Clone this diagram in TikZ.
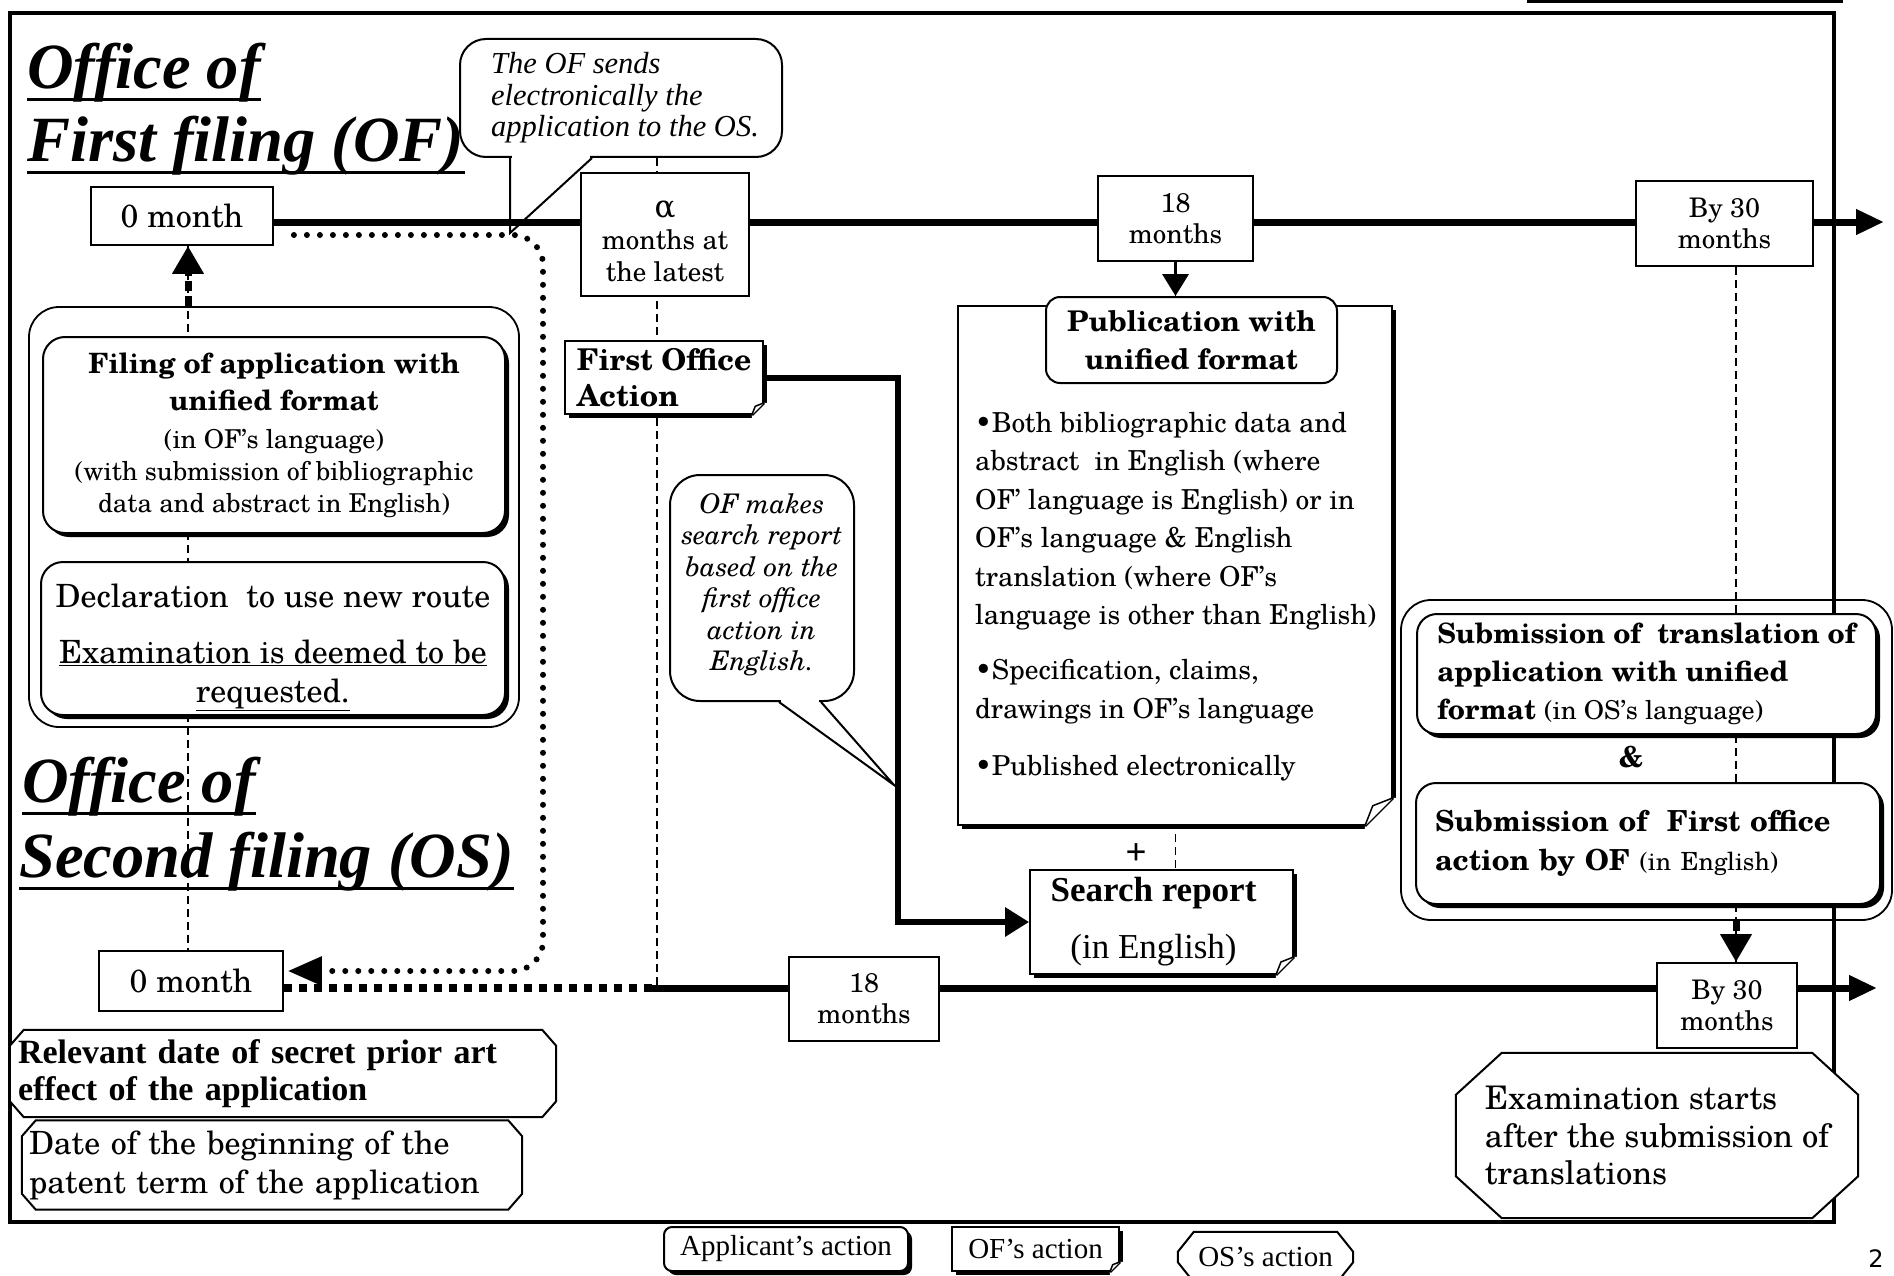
\documentclass[tikz,border=0pt]{standalone}
\usepackage{fontspec}
\setmainfont{texgyreschola}[Extension=.otf, UprightFont=*-regular, BoldFont=*-bold, ItalicFont=*-italic, BoldItalicFont=*-bolditalic]
\newfontfamily\timesf{Liberation Serif}
\newfontfamily\dvs{DejaVu Serif}
\newfontfamily\sansf{DejaVu Sans}
\usetikzlibrary{arrows.meta,calc,shadows}
\pgfdeclarelayer{back}
\pgfdeclarelayer{mid}
\pgfsetlayers{back,mid,main}
\newcommand\fs[2]{\fontsize{#1}{#2}\selectfont}
\newcommand\octa[4]{\draw[line width=#4, fill=white] ($(#1.north west)+(#2,0)$) -- ($(#1.north east)+(-#2,0)$) -- ($(#1.north east)+(0,#3)$) -- ($(#1.south east)+(0,-#3)$) -- ($(#1.south east)+(-#2,0)$) -- ($(#1.south west)+(#2,0)$) -- ($(#1.south west)+(0,-#3)$) -- ($(#1.north west)+(0,#3)$) -- cycle;}
\newcommand\curl[2]{%
 \fill[white] ($(#1.south east)+(-#2,0)$) -- ($(#1.south east)+(-#2,8)$) -- ($(#1.south east)+(8,8)$) -- ($(#1.south east)+(8,-#2)$) -- ($(#1.south east)+(0,-#2)$) -- cycle;
 \draw[line width=3pt] ($(#1.south east)+(-#2,0)$) -- ($(#1.south east)+(0,-#2)$);
 \draw[line width=1.5pt, fill=white] ($(#1.south east)+(-#2,0)$) -- ($(#1.south east)+(-0.72*#2,-0.72*#2)$) -- ($(#1.south east)+(0,-#2)$);}
\begin{document}
\begin{tikzpicture}[x=1pt,y=-1pt, line join=miter,
 tbox/.style={draw, line width=1.8pt, fill=white, inner sep=0pt, align=center, font={\fs{27}{31}}},
 shad/.style={drop shadow={shadow xshift=4pt, shadow yshift=-4pt, opacity=1, fill=black}},
 appbox/.style={draw, line width=2pt, fill=white, rounded corners=20pt, shad, inner sep=0pt},
 ofbox/.style={draw, line width=1.8pt, fill=white, shad, inner sep=0pt},
 grp/.style={draw, line width=1.8pt, rounded corners=30pt, inner sep=0pt},
 bubble/.style={draw, line width=2pt, fill=white, rounded corners=26pt, inner sep=0pt},
 heading/.style={font={\timesf\bfseries\itshape\fs{64.5}{70}}, inner sep=0pt},
 timeline/.style={line width=7pt},
 thindash/.style={line width=1.4pt, dash pattern=on 8pt off 5pt},
 thickdash/.style={line width=7pt, dash pattern=on 10pt off 5pt, -{Triangle[length=28pt,width=30pt]}},
 dotline/.style={line width=6pt, line cap=round, dash pattern=on 0pt off 13pt},
 sqdot/.style={line width=8pt, dash pattern=on 8pt off 7pt},
 bubtail/.style={line width=2pt, line join=miter},
 octtext/.style={inner sep=0pt, align=left}
]
\useasboundingbox (0,0) rectangle (1894,1276);

% ---------- headings ----------
\node[heading, anchor=base west] (H1a) at (27,89) {Office of};
\node[heading, anchor=base west] (H1b) at (27,162) {First filing (OF)};
\node[heading, anchor=base west] (H2a) at (22,802) {Office of};
\node[heading, anchor=base west] (H2b) at (19,877) {Second filing (OS)};
\foreach \h in {H1a,H1b,H2a,H2b}
  \draw[line width=3pt] ([yshift=-11pt]\h.base west) -- ([yshift=-11pt]\h.base east);

% ---------- time boxes ----------
\node[tbox, font={\fs{32}{36}}, minimum width=182pt, minimum height=58pt] (OF0) at (182,216) {0 month};
\node[tbox, font={\fs{32}{36}}, minimum width=184pt, minimum height=60pt] (OS0) at (191,981) {0 month};
\node[tbox, font={\fs{27}{32}}, minimum width=168pt, minimum height=123pt] (AL) at (665,234.5) {\rule{0pt}{30pt}{\dvs\fs{31}{32}α}\\months at\\the latest};
\node[tbox, minimum width=155pt, minimum height=85pt] (M18) at (1175.5,218.5) {18\\months};
\node[tbox, minimum width=177pt, minimum height=85pt] (B30t) at (1724.5,223.5) {By 30\\months};
\node[tbox, minimum width=150pt, minimum height=84pt] (M18b) at (864,999) {18\\months};
\node[tbox, minimum width=140pt, minimum height=85pt] (B30b) at (1727,1005.5) {By 30\\months};

% ---------- bubbles ----------
\node[bubble, minimum width=322pt, minimum height=118pt, align=left, font={\timesf\itshape\fs{30.5}{31.5}}] (B1) at (621,98) {\hspace*{8pt}The OF sends\\\hspace*{8pt}electronically the\\\hspace*{8pt}application to the OS.};
\coordinate (B1tip) at (510,233);
\fill[white] ($(B1.south)+(-109,-5)$) rectangle ($(B1.south)+(-31,4)$);
\draw[bubtail] ($(B1.south)+(-111,0)$) -- (B1tip) -- ($(B1.south)+(-29,0)$);

\node[bubble, rounded corners=30pt, minimum width=184pt, minimum height=226pt, align=center, font={\itshape\fs{27}{31.5}}] (B2) at (762,588) {OF makes\\search report\\based on the\\first office\\action in\\English.\rule[-12pt]{0pt}{0pt}};
\coordinate (B2tip) at (894,785);
\fill[white] ($(B2.south)+(19,-5)$) rectangle ($(B2.south)+(57,4)$);
\draw[bubtail] ($(B2.south)+(17,0)$) -- (B2tip) -- ($(B2.south)+(59,0)$);

% ---------- left group ----------
\node[grp, minimum width=490pt, minimum height=420pt] (GL) at (274,517) {};
\node[appbox, rounded corners=22pt, minimum width=462pt, minimum height=196pt, align=center, font={\fs{26}{32}}] (FIL) at (274,435)
 {{\bfseries\fs{28}{32}Filing of application with}\\[5pt]{\bfseries\fs{28}{32}unified format}\\[6pt](in OF’s language)\\(with submission of bibliographic\\data and abstract in English)};
\node[appbox, rounded corners=22pt, minimum width=464pt, minimum height=153pt, align=center, font={\fs{32}{39}}] (DEC) at (273,638.5)
 {\rule{0pt}{42pt}Declaration~ to use new route\\[17pt]\underline{Examination is deemed to be}\\\underline{requested.}};

% ---------- first office action ----------
\node[ofbox, minimum width=198pt, minimum height=73pt, align=left, font={\bfseries\fs{30}{36}}] (FOA) at (664,377.5) {First Office\\Action};
\curl{FOA}{12}

% ---------- publication ----------
\node[ofbox, minimum width=434pt, minimum height=519pt] (PUB) at (1175,565.5) {};
\curl{PUB}{28}
\node[draw, line width=2pt, fill=white, rounded corners=14pt, minimum width=291pt, minimum height=86pt, inner sep=0pt, align=center, font={\bfseries\fs{28.5}{38}}] (PUBT) at (1191.5,340) {Publication with\\unified format};
\node[anchor=north west, align=left, inner sep=0pt, font={\fs{27.5}{38.4}}] (PUBX) at (975,412)
 {•Both bibliographic data and\\abstract~ in English (where\\OF’ language is English) or in\\OF’s language \& English\\translation (where OF’s\\language is other than English)\\[17pt]•Specification, claims,\\drawings in OF’s language\\[19pt]•Published electronically};
\node[font={\fs{33}{34}}] (PLUS) at (1136,852) {+};

% ---------- search report ----------
\node[ofbox, minimum width=263pt, minimum height=104pt, align=center, font={\timesf\fs{35}{57}}] (SR) at (1161.5,922) {{\bfseries Search report}\hspace*{16pt}\\(in English)\hspace*{16pt}};
\curl{SR}{18}

% ---------- right group ----------
\node[grp, minimum width=491pt, minimum height=320pt] (GR) at (1646.5,760) {};
\node[appbox, minimum width=459pt, minimum height=120pt, align=left, font={\bfseries\fs{28}{38}}] (S1) at (1646.5,674)
 {Submission of~ translation of\\application with unified\\format {\mdseries\fs{26}{38}(in OS’s language)}};
\node[font={\bfseries\fs{29}{30}}] (AMP) at (1631,757) {\&};
\node[appbox, minimum width=464pt, minimum height=121pt, text width=426pt, align=left, font={\bfseries\fs{29}{39}}] (S2) at (1648,843.5)
 {Submission of~ First office\\action by OF {\mdseries\fs{25}{39}(in English)}};

% ---------- OS action boxes (octagons) ----------
\node[octtext, minimum width=402pt, minimum height=165pt, font={\fs{32.5}{37.5}}] (EX) at (1657,1135.5) {Examination starts\\after the submission of\\translations};
\node[octtext, minimum width=546pt, minimum height=87pt, text width=530pt, font={\timesf\bfseries\fs{34}{37}}] (REL) at (283,1073.5) {Relevant date of secret prior art\\effect of the application};
\node[octtext, minimum width=500pt, minimum height=89pt, text width=486pt, font={\fs{32}{39}}] (DAT) at (272,1165) {Date of the beginning of the\\patent term of the application};

% ---------- legend ----------
\node[appbox, rounded corners=8pt, minimum width=244pt, minimum height=44pt, font={\timesf\fs{29}{32}}] (LA) at (786,1249) {Applicant’s action};
\node[ofbox, minimum width=167pt, minimum height=44pt, font={\timesf\fs{29}{32}}] (LF) at (1035.5,1249) {OF’s action};
\curl{LF}{10}
\node[octtext, minimum width=175pt, minimum height=50pt, font={\timesf\fs{29}{32}}] (LO) at (1265.5,1257) {OS’s action};
\node[anchor=north, inner sep=0pt, font={\sansf\fs{24}{25}}] (PG) at (1876,1249) {2};

\begin{pgfonlayer}{mid}
 \octa{EX}{46}{42}{2pt}
 \octa{REL}{14}{16}{2pt}
 \octa{DAT}{14}{16}{2pt}
 \octa{LO}{16}{20}{2pt}
\end{pgfonlayer}

% ---------- background lines ----------
\begin{pgfonlayer}{back}
 \draw[line width=3.5pt] (10,13) rectangle (1834,1222);
 \draw[line width=3pt] (1527,2) -- (1843,2);
 \coordinate (topEnd) at (1884,222);
 \draw[timeline, -{Triangle[length=28pt,width=24pt]}] (OF0.east |- topEnd) -- (topEnd);
 \coordinate (botSplit) at (652,988);
 \coordinate (botEnd) at (1877,988);
 \draw[sqdot] (OS0.east |- botSplit) -- (botSplit);
 \draw[timeline, -{Triangle[length=28pt,width=24pt]}] (botSplit) -- (botEnd);
 \coordinate (dL) at (188,0);
 \coordinate (dA) at (657,0);
 \coordinate (dR) at (1736,0);
 \draw[thindash] (dL |- OF0.south) -- (dL |- OS0.north);
 \draw[thindash] (dA |- B1.south) -- (dA |- botSplit);
 \draw[thindash] (M18.south) -- (M18.south |- SR.north);
 \draw[thindash] (dR |- B30t.south) -- (dR |- B30b.north);
\end{pgfonlayer}

% ---------- connectors ----------
\draw[thickdash] (dL |- GL.north) -- (dL |- OF0.south);
\draw[thickdash] (dR |- GR.south) -- (dR |- B30b.north);
\draw[line width=3.5pt, -{Triangle[length=22pt,width=26pt]}] (M18.south) -- (M18.south |- PUBT.north);
\draw[line width=6pt, -{Triangle[length=24pt,width=28pt]}] (FOA.east) -| ($(SR.west)+(-131,0)$) -- (SR.west);
\coordinate (dotS) at ($(OF0.east)+(20,19)$);
\coordinate (dotC1) at (543,235);
\coordinate (dotC2) at (543,971);
\coordinate (dotE) at ($(OS0.east |- dotC2)+(4,0)$);
\draw[dotline, rounded corners=30pt, -{Triangle[length=34pt,width=28pt]}] (dotS) -- (dotC1) -- (dotC2) -- (dotE);
\end{tikzpicture}
\end{document}
